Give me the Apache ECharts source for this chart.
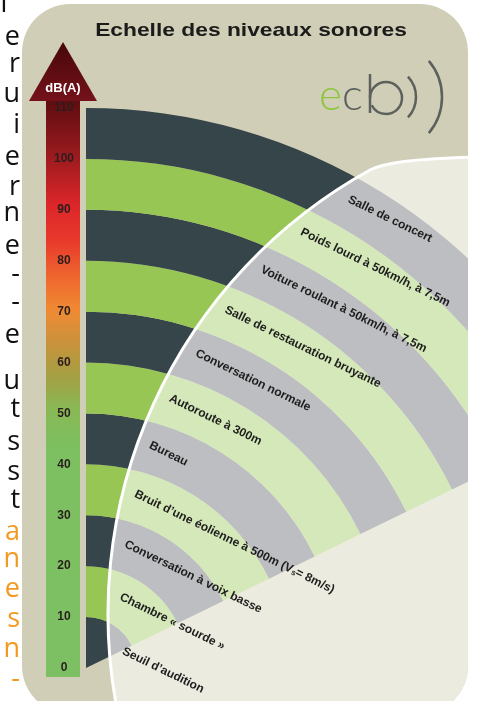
<!DOCTYPE html>
<html>
<head>
<meta charset="utf-8">
<style>
  html, body { margin: 0; padding: 0; background: #fff; }
  #main { width: 477px; height: 701px; }
</style>
</head>
<body>
<div id="main"></div>
<script src="https://cdn.jsdelivr.net/npm/echarts/dist/echarts.min.js"></script>
<script>
// une bande de 10 dB(A) par source de bruit
const dbLow = [0, 10, 20, 30, 40, 50, 60, 70, 80, 90, 100]
const dbHigh = [10, 20, 30, 40, 50, 60, 70, 80, 90, 100, 110]
const sources = [
  'Seuil d’audition',
  'Chambre « sourde »',
  'Conversation à voix basse',
  'Bruit d’une éolienne à 500m (V{sub|s}= 8m/s)',
  'Bureau',
  'Autoroute à 300m',
  'Conversation normale',
  'Salle de restauration bruyante',
  'Voiture roulant à 50km/h, à 7,5m',
  'Poids lourd à 50km/h, à 7,5m',
  'Salle de concert'
]
const scaleMax = 110
const scaleStep = 10

// bouts de texte de la page coupee a gauche
const marginChars = ['e', 'r', 'u', 'i', 'e', 'r', 'n', 'e', '-', '-', 'e', 'u', 't', 's', 's', 't', 'a', 'n', 'e', 's', 'n', '-']
const marginOrangeFrom = 16

// mise en page
const POLE = [86, 668]
const RING_R = 560
const SECTOR = [26, 90]
const CUT = { x: 615, y: 614, r: 507 }
const CARD = { x: 22, y: 4, width: 446, height: 710, r: 48 }
const FONT = '"Liberation Sans", Arial, sans-serif'
const outerColors = ['#36454a', '#97c655']
const innerColors = ['#bdbec1', '#d5e8b9']

const cutStart = [CUT.x - Math.sqrt(CUT.r * CUT.r - Math.pow(720 - CUT.y, 2)), 720]
const cutEdge = 'M' + cutStart[0] + ',' + cutStart[1] + ' A' + CUT.r + ',' + CUT.r + ' 0 0,1 370,170 C385,162 430,158 480,157'
const cutArea = cutEdge + ' L480,720 Z'

const bandData = dbLow.map((lo, i) => [lo, dbHigh[i], i])

function cardClip () {
  return { type: 'rect', shape: { x: CARD.x, y: CARD.y, width: CARD.width, height: CARD.height, r: CARD.r } }
}

function ringSector (api, colors) {
  const c = api.coord([0, SECTOR[1]])
  const px = v => {
    const p = api.coord([v, SECTOR[1]])
    return Math.hypot(p[0] - c[0], p[1] - c[1])
  }
  const ang = a => {
    const p = api.coord([scaleMax, a])
    return Math.atan2(p[1] - c[1], p[0] - c[0])
  }
  return {
    type: 'sector',
    shape: {
      cx: c[0], cy: c[1],
      r0: px(api.value(0)), r: px(api.value(1)),
      startAngle: ang(SECTOR[1]), endAngle: ang(SECTOR[0]), clockwise: true
    },
    style: { fill: colors[api.value(2) % 2] }
  }
}

function labelItem (params, api) {
  const i = api.value(2)
  const inner = i === 0
  const rv = inner ? dbHigh[0] * 0.8 : (api.value(0) + api.value(1)) / 2 + 0.6
  let a = inner ? SECTOR[0] - 1 : SECTOR[1]
  let p = api.coord([rv, a])
  if (!inner) {
    while (a > SECTOR[0] && Math.hypot(p[0] - CUT.x, p[1] - CUT.y) > CUT.r - 12) {
      a -= 0.25
      p = api.coord([rv, a])
    }
  }
  return {
    type: 'text',
    x: p[0],
    y: p[1],
    rotation: -SECTOR[0] * Math.PI / 180,
    style: {
      text: sources[i],
      font: 'bold 12px ' + FONT,
      fill: '#1d1d1d',
      textAlign: 'left',
      textVerticalAlign: 'middle',
      rich: {
        sub: { fontSize: 8, fontWeight: 'bold', fontFamily: FONT, fill: '#1d1d1d', verticalAlign: 'bottom' }
      }
    }
  }
}

const chart = echarts.init(document.getElementById('main'))

const shaftGradient = new echarts.graphic.LinearGradient(0, 0, 0, 1, [
  { offset: 0, color: '#5e0c10' },
  { offset: 0.087, color: '#94191d' },
  { offset: 0.182, color: '#dc262a' },
  { offset: 0.243, color: '#e8392c' },
  { offset: 0.312, color: '#ef6a2e' },
  { offset: 0.364, color: '#f08a34' },
  { offset: 0.425, color: '#c6933c' },
  { offset: 0.477, color: '#a59f43' },
  { offset: 0.537, color: '#88b955' },
  { offset: 0.607, color: '#7cc062' },
  { offset: 1, color: '#7cc063' }
])
const headGradient = new echarts.graphic.LinearGradient(0, 0, 0, 1, [
  { offset: 0, color: '#47070a' },
  { offset: 1, color: '#74121a' }
])

const marginTexts = marginChars.map((ch, k) => {
  const ys = [40, 67, 97, 128, 160, 190, 216, 249, 277, 305, 338, 384, 412, 445, 475, 503, 535, 562, 592, 622, 652, 682]
  return {
    type: 'text',
    z: 20,
    x: 20,
    y: ys[k] - 3,
    style: {
      text: ch,
      font: '27px "Open Sans", sans-serif',
      fill: k >= marginOrangeFrom ? '#f39a1e' : '#111',
      textAlign: 'right',
      textVerticalAlign: 'middle'
    }
  }
})

const option = {
  animation: false,
  polar: { center: POLE, radius: RING_R },
  angleAxis: { type: 'value', min: 0, max: 360, startAngle: 0, clockwise: false, show: false },
  radiusAxis: { type: 'value', min: 0, max: scaleMax, show: false },
  grid: { left: 46, top: POLE[1] - RING_R, width: 34, height: RING_R, outerBoundsMode: 'none' },
  xAxis: { type: 'value', min: 0, max: 1, show: false },
  yAxis: {
    type: 'value',
    min: 0,
    max: scaleMax,
    interval: scaleStep,
    z: 15,
    axisLine: { show: false },
    axisTick: { show: false },
    splitLine: { show: false },
    axisLabel: {
      inside: true,
      margin: 18,
      align: 'center',
      verticalAlign: 'middle',
      fontSize: 12,
      fontWeight: 'bold',
      fontFamily: FONT,
      color: '#2a1e1e'
    }
  },
  graphic: {
    elements: [
      {
        type: 'rect',
        z: 0,
        shape: { x: CARD.x, y: CARD.y, width: CARD.width, height: CARD.height, r: CARD.r },
        style: { fill: '#d0ceb6' }
      },
      {
        type: 'text',
        z: 10,
        x: 251,
        y: 31,
        scaleX: 1.2,
        style: { text: 'Echelle des niveaux sonores', font: 'bold 19px ' + FONT, fill: '#1b1b1b', textAlign: 'center', textVerticalAlign: 'middle' }
      },
      {
        type: 'rect',
        z: 10,
        shape: { x: 46, y: 100, width: 34, height: 577 },
        style: { fill: shaftGradient }
      },
      {
        type: 'polygon',
        z: 10,
        shape: { points: [[63, 42], [97, 101], [29, 101]] },
        style: { fill: headGradient }
      },
      {
        type: 'text',
        z: 11,
        x: 63,
        y: 88,
        style: { text: 'dB(A)', font: 'bold 13px ' + FONT, fill: '#fff', textAlign: 'center', textVerticalAlign: 'middle' }
      },
      {
        type: 'text',
        z: 20,
        x: 4,
        y: -9,
        style: { text: 'T', font: '27px "Open Sans", sans-serif', fill: '#111', textAlign: 'center', textVerticalAlign: 'top' }
      },
      // logo echo
      {
        type: 'text',
        z: 10,
        x: 319,
        y: 96,
        style: {
          text: '{e|e}{c|c}',
          textVerticalAlign: 'middle',
          rich: {
            e: { fontSize: 44, fontFamily: 'Lato, sans-serif', fontWeight: 300, fill: '#8cc63f' },
            c: { fontSize: 44, fontFamily: 'Lato, sans-serif', fontWeight: 300, fill: '#5c615d' }
          }
        }
      },
      {
        type: 'line',
        z: 10,
        shape: { x1: 370, y1: 74, x2: 370, y2: 113 },
        style: { stroke: '#5c615d', lineWidth: 2.5 }
      },
      {
        type: 'arc',
        z: 10,
        shape: { cx: 386, cy: 98, r: 16, startAngle: Math.PI, endAngle: Math.PI * 2.85, clockwise: true },
        style: { stroke: '#5c615d', lineWidth: 2.5, fill: null }
      },
      {
        type: 'arc',
        z: 10,
        shape: { cx: 386, cy: 97, r: 30, startAngle: -0.75, endAngle: 0.75, clockwise: true },
        style: { stroke: '#5c615d', lineWidth: 2.5, fill: null }
      },
      {
        type: 'arc',
        z: 10,
        shape: { cx: 386, cy: 97, r: 56, startAngle: -0.7, endAngle: 0.7, clockwise: true },
        style: { stroke: '#5c615d', lineWidth: 2.5, fill: null }
      }
    ].concat(marginTexts)
  },
  series: [
    {
      type: 'custom',
      name: 'bandes',
      coordinateSystem: 'polar',
      z: 2,
      dimensions: ['bas', 'haut', 'rang'],
      encode: { radius: ['bas', 'haut'], angle: 'rang' },
      data: bandData,
      renderItem: (params, api) => Object.assign(ringSector(api, outerColors), { clipPath: cardClip() })
    },
    {
      type: 'custom',
      coordinateSystem: 'none',
      z: 3,
      data: [[0]],
      renderItem: () => ({
        type: 'path',
        shape: { pathData: cutArea },
        style: { fill: '#ecebe0' },
        clipPath: cardClip()
      })
    },
    {
      type: 'custom',
      name: 'sources',
      coordinateSystem: 'polar',
      z: 4,
      dimensions: ['bas', 'haut', 'rang'],
      encode: { radius: ['bas', 'haut'], angle: 'rang' },
      data: bandData,
      renderItem: (params, api) => ({
        type: 'group',
        clipPath: cardClip(),
        children: [Object.assign(ringSector(api, innerColors), {
          clipPath: { type: 'path', shape: { pathData: cutArea } }
        })]
      })
    },
    {
      type: 'custom',
      coordinateSystem: 'none',
      z: 5,
      data: [[0]],
      renderItem: () => ({
        type: 'path',
        shape: { pathData: cutEdge },
        style: { fill: 'none', stroke: '#ffffff', lineWidth: 3 },
        clipPath: cardClip()
      })
    },
    {
      type: 'custom',
      name: 'libelles',
      coordinateSystem: 'polar',
      z: 6,
      dimensions: ['bas', 'haut', 'rang'],
      encode: { radius: ['bas', 'haut'], angle: 'rang' },
      data: bandData,
      renderItem: labelItem
    }
  ]
}

chart.setOption(option)
</script>
</body>
</html>
